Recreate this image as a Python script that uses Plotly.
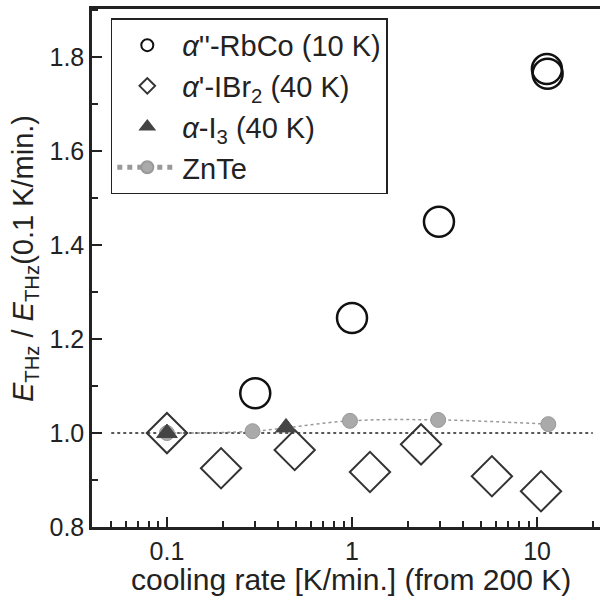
import plotly.graph_objects as go

# RbCo (10 K)
rbco_x = [0.30, 1.0, 2.95, 11.3, 11.4]
rbco_y = [1.085, 1.245, 1.45, 1.775, 1.765]
# IBr2 (40 K)
ibr2_x = [0.10, 0.196, 0.49, 1.25, 2.36, 5.7, 10.5]
ibr2_y = [1.0, 0.925, 0.964, 0.917, 0.976, 0.908, 0.876]
# I3 (40 K)
i3_x = [0.10, 0.44]
i3_y = [1.0, 1.012]
# ZnTe
znte_x = [0.10, 0.29, 0.975, 2.92, 11.5]
znte_y = [1.0, 1.004, 1.026, 1.028, 1.019]
# reference line
ref_x = [0.05, 20]
ref_y = [1.0, 1.0]

x_major = [0.1, 1, 10]
x_major_text = ["0.1", "1", "10"]
x_minor = [0.05, 0.06, 0.07, 0.08, 0.09, 0.2, 0.3, 0.4, 0.5, 0.6, 0.7, 0.8, 0.9,
           2, 3, 4, 5, 6, 7, 8, 9, 20]
y_major = [0.8, 1.0, 1.2, 1.4, 1.6, 1.8]

x_title = "cooling rate [K/min.] (from 200 K)"
y_title = "<i>E</i><sub>THz</sub> / <i>E</i><sub>THz</sub>(0.1 K/min.)"

FONT = "Liberation Sans, Arial, sans-serif"

fig = go.Figure()
fig.add_trace(go.Scatter(x=ref_x, y=ref_y, mode="lines",
                         line=dict(color="#222", width=1.5, dash="dot"),
                         showlegend=False, hoverinfo="skip"))
fig.add_trace(go.Scatter(x=znte_x, y=znte_y, mode="lines+markers", name="ZnTe",
                         legendrank=4,
                         line=dict(color="#999", width=1.5, dash="dot", shape="spline"),
                         marker=dict(symbol="circle", size=15, color="#aaa",
                                     line=dict(color="#999", width=1))))
fig.add_trace(go.Scatter(x=ibr2_x, y=ibr2_y, mode="markers", name="<i>α</i>'-IBr<sub>2</sub> (40 K)",
                         legendrank=2,
                         marker=dict(symbol="diamond-open", size=31, color="#333",
                                     line=dict(color="#333", width=2))))
fig.add_trace(go.Scatter(x=i3_x, y=i3_y, mode="markers", name="<i>α</i>-I<sub>3</sub> (40 K)",
                         legendrank=3,
                         marker=dict(symbol="triangle-up", size=18, color="#444",
                                     line=dict(color="#444", width=1))))
fig.add_trace(go.Scatter(x=rbco_x, y=rbco_y, mode="markers", name="<i>α</i>''-RbCo (10 K)",
                         legendrank=1,
                         marker=dict(symbol="circle-open", size=30, color="#111",
                                     line=dict(color="#111", width=2.5))))

fig.update_layout(
    width=600, height=600,
    margin=dict(l=92, r=0, t=9, b=73, autoexpand=False),
    plot_bgcolor="white", paper_bgcolor="white",
    font=dict(family=FONT, size=25, color="#222"),
    showlegend=True,
    legend=dict(x=0.037, y=0.982, xanchor="left", yanchor="top",
                bgcolor="white", bordercolor="#222", borderwidth=1.5,
                font=dict(size=29), traceorder="normal", itemwidth=60,
                itemsizing="constant", tracegroupgap=0),
    xaxis=dict(type="log", range=[-1.405, 1.34], automargin=False,
               tickmode="array", tickvals=x_major, ticktext=x_major_text,
               ticks="inside", ticklen=10, tickwidth=1.5, tickcolor="#222",
               minor=dict(tickmode="array", tickvals=x_minor, ticks="inside",
                          ticklen=6, tickwidth=1.5, tickcolor="#222"),
               showline=True, linecolor="#222", linewidth=2.5, mirror=True,
               showgrid=False, zeroline=False,
               tickfont=dict(size=25)),
    yaxis=dict(range=[0.8, 1.903], automargin=False,
               tickmode="array", tickvals=y_major,
               ticktext=[f"{v:.1f}" for v in y_major],
               ticks="inside", ticklen=10, tickwidth=1.5, tickcolor="#222",
               minor=dict(dtick=0.1, tick0=0.8, ticks="inside", ticklen=6,
                          tickwidth=1.5, tickcolor="#222"),
               showline=True, linecolor="#222", linewidth=2.5,
               showgrid=False, zeroline=False,
               tickfont=dict(size=25)),
    annotations=[
        dict(text=x_title, xref="paper", yref="paper", x=0.51, y=-0.101,
             xanchor="center", yanchor="middle", showarrow=False,
             font=dict(size=30)),
        dict(text=y_title, xref="paper", yref="paper", x=-0.132, y=0.519,
             xanchor="center", yanchor="middle", showarrow=False, textangle=-90,
             font=dict(size=29)),
    ],
)

fig.write_html("out.html", config={"displayModeBar": False},
               post_script="document.body.style.margin='0';")
